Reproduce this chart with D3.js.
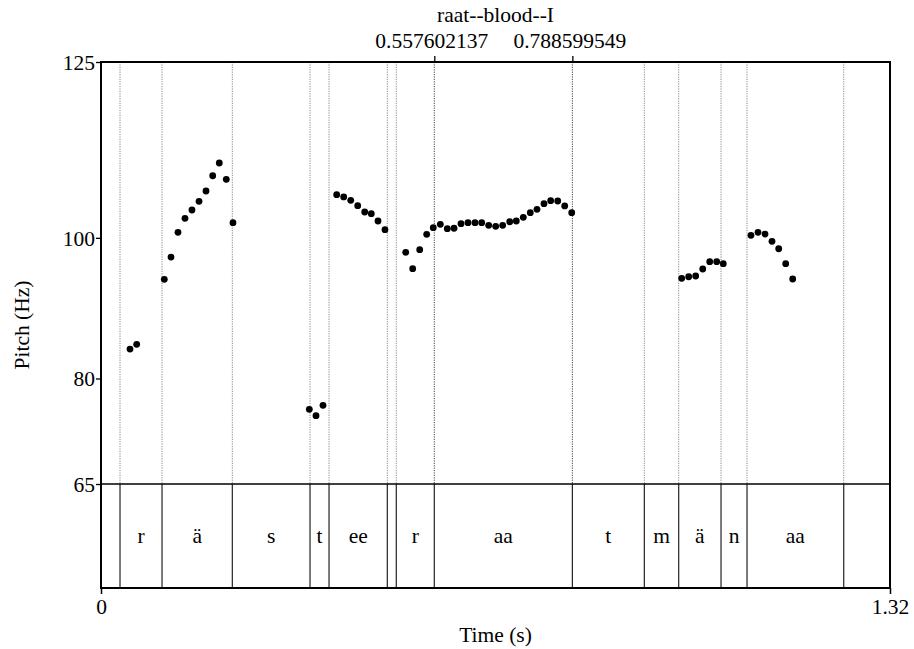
<!DOCTYPE html>
<html><head><meta charset="utf-8">
<script src="https://cdn.jsdelivr.net/npm/d3@7"></script>
<style>
html,body{margin:0;padding:0;background:#fff;}
svg{display:block;}
text{font-family:"Liberation Serif","Times New Roman",serif;fill:#000;}
</style></head>
<body><svg id="c" width="914" height="649"></svg>
<script>
// ---- data ----
const title = "raat--blood--I";
const xLabel = "Time (s)";
const yLabel = "Pitch (Hz)";
const timeRange = [0, 1.32];
const pitchRange = [65, 125];
const yTickValues = [65, 80, 100, 125];
const xTickValues = [0, 1.32];
const xTickLabels = ["0", "1.32"];
const topMarks = [0.557602137, 0.788599549];
const topMarkLabels = ["0.557602137", "0.788599549"];
const boundaries = [0, 0.0318, 0.1021, 0.2197, 0.3497, 0.3815, 0.479, 0.494, 0.557602137, 0.788599549, 0.909, 0.9665, 1.0373, 1.0808, 1.2426, 1.32];
const tierLabels = ["", "r", "ä", "s", "t", "ee", "", "r", "aa", "t", "m", "ä", "n", "aa", ""];
const times = [0.0485,0.0597,0.1059,0.1171,0.1288,0.1405,0.1522,0.1640,0.1757,0.1869,0.1979,0.2096,0.2208,
  0.3485,0.3597,0.3714,0.3943,0.4060,0.4178,0.4295,0.4412,0.4522,0.4634,0.4751,
  0.5098,0.5215,0.5332,0.5449,0.5559,0.5677,0.5794,0.5906,0.6023,0.6140,0.6257,0.6369,0.6486,0.6603,0.6720,0.6838,0.6948,0.7065,0.7182,0.7294,0.7411,0.7523,0.7641,0.7758,0.7875,
  0.9715,0.9832,0.9949,1.0067,1.0184,1.0301,1.0411,1.0874,1.0992,1.1109,1.1226,1.1338,1.1455,1.1572];
const pitches = [84.19,84.86,94.10,97.27,100.79,102.78,103.96,105.19,106.66,108.83,110.64,108.32,102.15,
  75.62,74.71,76.19,106.13,105.81,105.34,104.57,103.67,103.43,102.39,101.16,
  97.94,95.61,98.31,100.50,101.44,101.92,101.30,101.36,102.01,102.15,102.15,102.15,101.78,101.64,101.78,102.29,102.39,102.92,103.57,104.06,104.85,105.28,105.24,104.53,103.57,
  94.25,94.47,94.57,95.57,96.61,96.61,96.32,100.36,100.79,100.54,99.51,98.45,96.32,94.15];

// ---- layout ----
const L = 101, R = 890, T = 62, TIER = 484, B = 588;
const FS = "21.5px";
const svg = d3.select("#c");
const x = d3.scaleLinear().domain(timeRange).range([L, R]);
const y = d3.scaleLinear().domain(pitchRange).range([TIER, T]);

// dotted boundary lines in pitch area
svg.append("g").selectAll("line").data(boundaries.slice(1, -1)).join("line")
  .attr("x1", d => x(d)).attr("x2", d => x(d)).attr("y1", T).attr("y2", TIER)
  .attr("stroke", d => topMarks.includes(d) ? "#444" : "#888")
  .attr("stroke-width", 1).attr("stroke-dasharray", "1.2,1.2");

// solid boundary lines in tier
svg.append("g").selectAll("line").data(boundaries.slice(1, -1)).join("line")
  .attr("x1", d => x(d)).attr("x2", d => x(d)).attr("y1", TIER).attr("y2", B)
  .attr("stroke", "#222").attr("stroke-width", 1.2);

// tier labels
const intervals = tierLabels.map((lab, i) => ({lab, a: boundaries[i], b: boundaries[i + 1]}));
svg.append("g").selectAll("text").data(intervals.filter(d => d.lab)).join("text")
  .attr("x", d => x((d.a + d.b) / 2)).attr("y", (TIER + B) / 2)
  .attr("text-anchor", "middle").attr("dominant-baseline", "central")
  .style("font-size", FS).text(d => d.lab);

// tier top line
svg.append("line").attr("x1", L).attr("x2", R).attr("y1", TIER).attr("y2", TIER)
  .attr("stroke", "#000").attr("stroke-width", 1.3);

// pitch points
svg.append("g").selectAll("circle").data(times.map((t, i) => [t, pitches[i]])).join("circle")
  .attr("cx", d => x(d[0])).attr("cy", d => y(d[1])).attr("r", 3.4).attr("fill", "#000");

// frame
svg.append("rect").attr("x", L).attr("y", T).attr("width", R - L).attr("height", B - T)
  .attr("fill", "none").attr("stroke", "#000").attr("stroke-width", 2);

// left axis
const ga = svg.append("g").attr("transform", `translate(${L},0)`)
  .call(d3.axisLeft(y).tickValues(yTickValues).tickSize(5).tickPadding(1).tickFormat(d3.format("d")));
ga.select(".domain").remove();
ga.selectAll(".tick line").attr("stroke-width", 1.3);
ga.selectAll("text").style("font-size", FS).attr("font-family", null).attr("dy", "0.34em");

// bottom axis
const gb = svg.append("g").attr("transform", `translate(0,${B})`)
  .call(d3.axisBottom(x).tickValues(xTickValues).tickSize(6).tickPadding(5).tickFormat((d, i) => xTickLabels[i]));
gb.select(".domain").remove();
gb.selectAll(".tick line").attr("stroke-width", 1.5);
gb.selectAll("text").style("font-size", FS).attr("font-family", null);

// top marks
const gt = svg.append("g").attr("transform", `translate(0,${T})`)
  .call(d3.axisTop(x).tickValues(topMarks).tickSize(6).tickPadding(8).tickFormat((d, i) => topMarkLabels[i]));
gt.select(".domain").remove();
gt.selectAll(".tick line").attr("stroke-width", 1.3);
gt.selectAll("text").style("font-size", FS).attr("font-family", null).attr("dx", "-3");

// titles
svg.append("text").attr("x", (L + R) / 2).attr("y", 22).attr("text-anchor", "middle")
  .style("font-size", FS).text(title);
svg.append("text").attr("x", (L + R) / 2).attr("y", 642).attr("text-anchor", "middle")
  .style("font-size", FS).text(xLabel);
svg.append("text").attr("transform", `translate(29,${(T + B) / 2}) rotate(-90)`)
  .attr("text-anchor", "middle").style("font-size", FS).text(yLabel);
</script></body></html>
